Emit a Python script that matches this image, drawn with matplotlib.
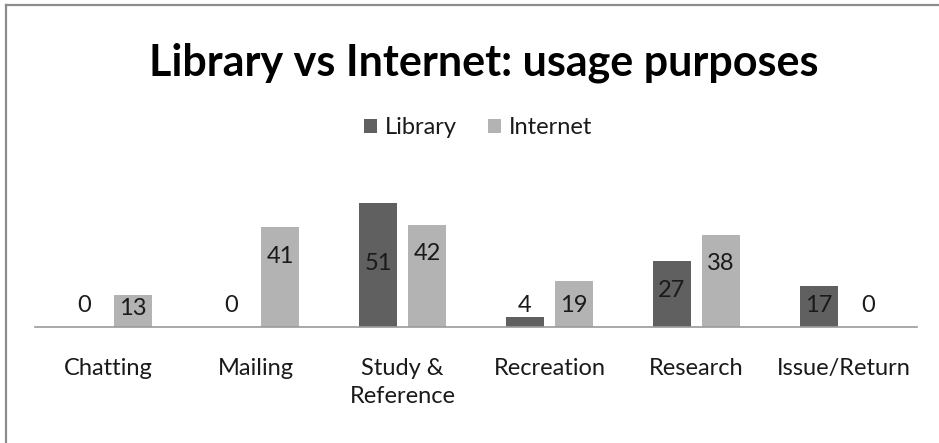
import matplotlib.pyplot as plt
import numpy as np
from matplotlib.lines import Line2D

categories = ['Chatting', 'Mailing', 'Study &\nReference', 'Recreation', 'Research', 'Issue/Return']
library = [0, 0, 51, 4, 27, 17]
internet = [13, 41, 42, 19, 38, 0]

DARK = '#606060'
LIGHT = '#b3b3b3'
TXT = '#1a1a1a'
plt.rcParams['font.family'] = ['Lato', 'DejaVu Sans']

fig = plt.figure(figsize=(9.39, 4.43), dpi=100)
ax = fig.add_axes([35 / 939, 116 / 443, 882 / 939, 146 / 443])

x = np.arange(len(categories))
w = 0.26
off = 0.167
b1 = ax.bar(x - off, library, w, color=DARK, label='Library')
b2 = ax.bar(x + off, internet, w, color=LIGHT, label='Internet')


def label_y(v):
    # value text sits inside the top of the bar, or just above the axis for short bars
    return max(v - 12, 9)


nudge = {(0, 2): -13, (1, 0): -1.5}
for s, vals in enumerate([library, internet]):
    for i, v in enumerate(vals):
        xpos = x[i] + (off if s else -off)
        ax.text(xpos, label_y(v) + nudge.get((s, i), 0), str(v), ha='center', va='center',
                fontsize=17, color=TXT)

ax.set_xlim(-0.5, len(categories) - 0.5)
ax.set_ylim(0, 60)
ax.set_yticks([])
ax.set_xticks(x)
ax.set_xticklabels(categories, fontsize=17, color=TXT, linespacing=1.45)
ax.tick_params(axis='x', length=0, pad=22)
for side in ['top', 'right', 'left']:
    ax.spines[side].set_visible(False)
ax.spines['bottom'].set_color('#9a9a9a')
ax.spines['bottom'].set_linewidth(1.2)

fig.text(484 / 939, 1 - 63 / 443, 'Library vs Internet: usage purposes', ha='center', va='center',
         fontsize=31, fontweight='bold', color='black')
fig.legend(handles=[b1, b2], loc='center', bbox_to_anchor=(478 / 939, 1 - 128 / 443), ncol=2,
           frameon=False, fontsize=17, handlelength=0.55, handleheight=0.55,
           handletextpad=0.35, columnspacing=1.3, labelcolor=TXT)

# outer chart frame (top and left edges)
fig.add_artist(Line2D([6 / 939, 1], [1 - 5 / 443] * 2, color='#8c8c8c', lw=1.6, transform=fig.transFigure))
fig.add_artist(Line2D([6 / 939] * 2, [0, 1 - 5 / 443], color='#8c8c8c', lw=1.6, transform=fig.transFigure))

fig.savefig('out.png', dpi=100, facecolor='white')
